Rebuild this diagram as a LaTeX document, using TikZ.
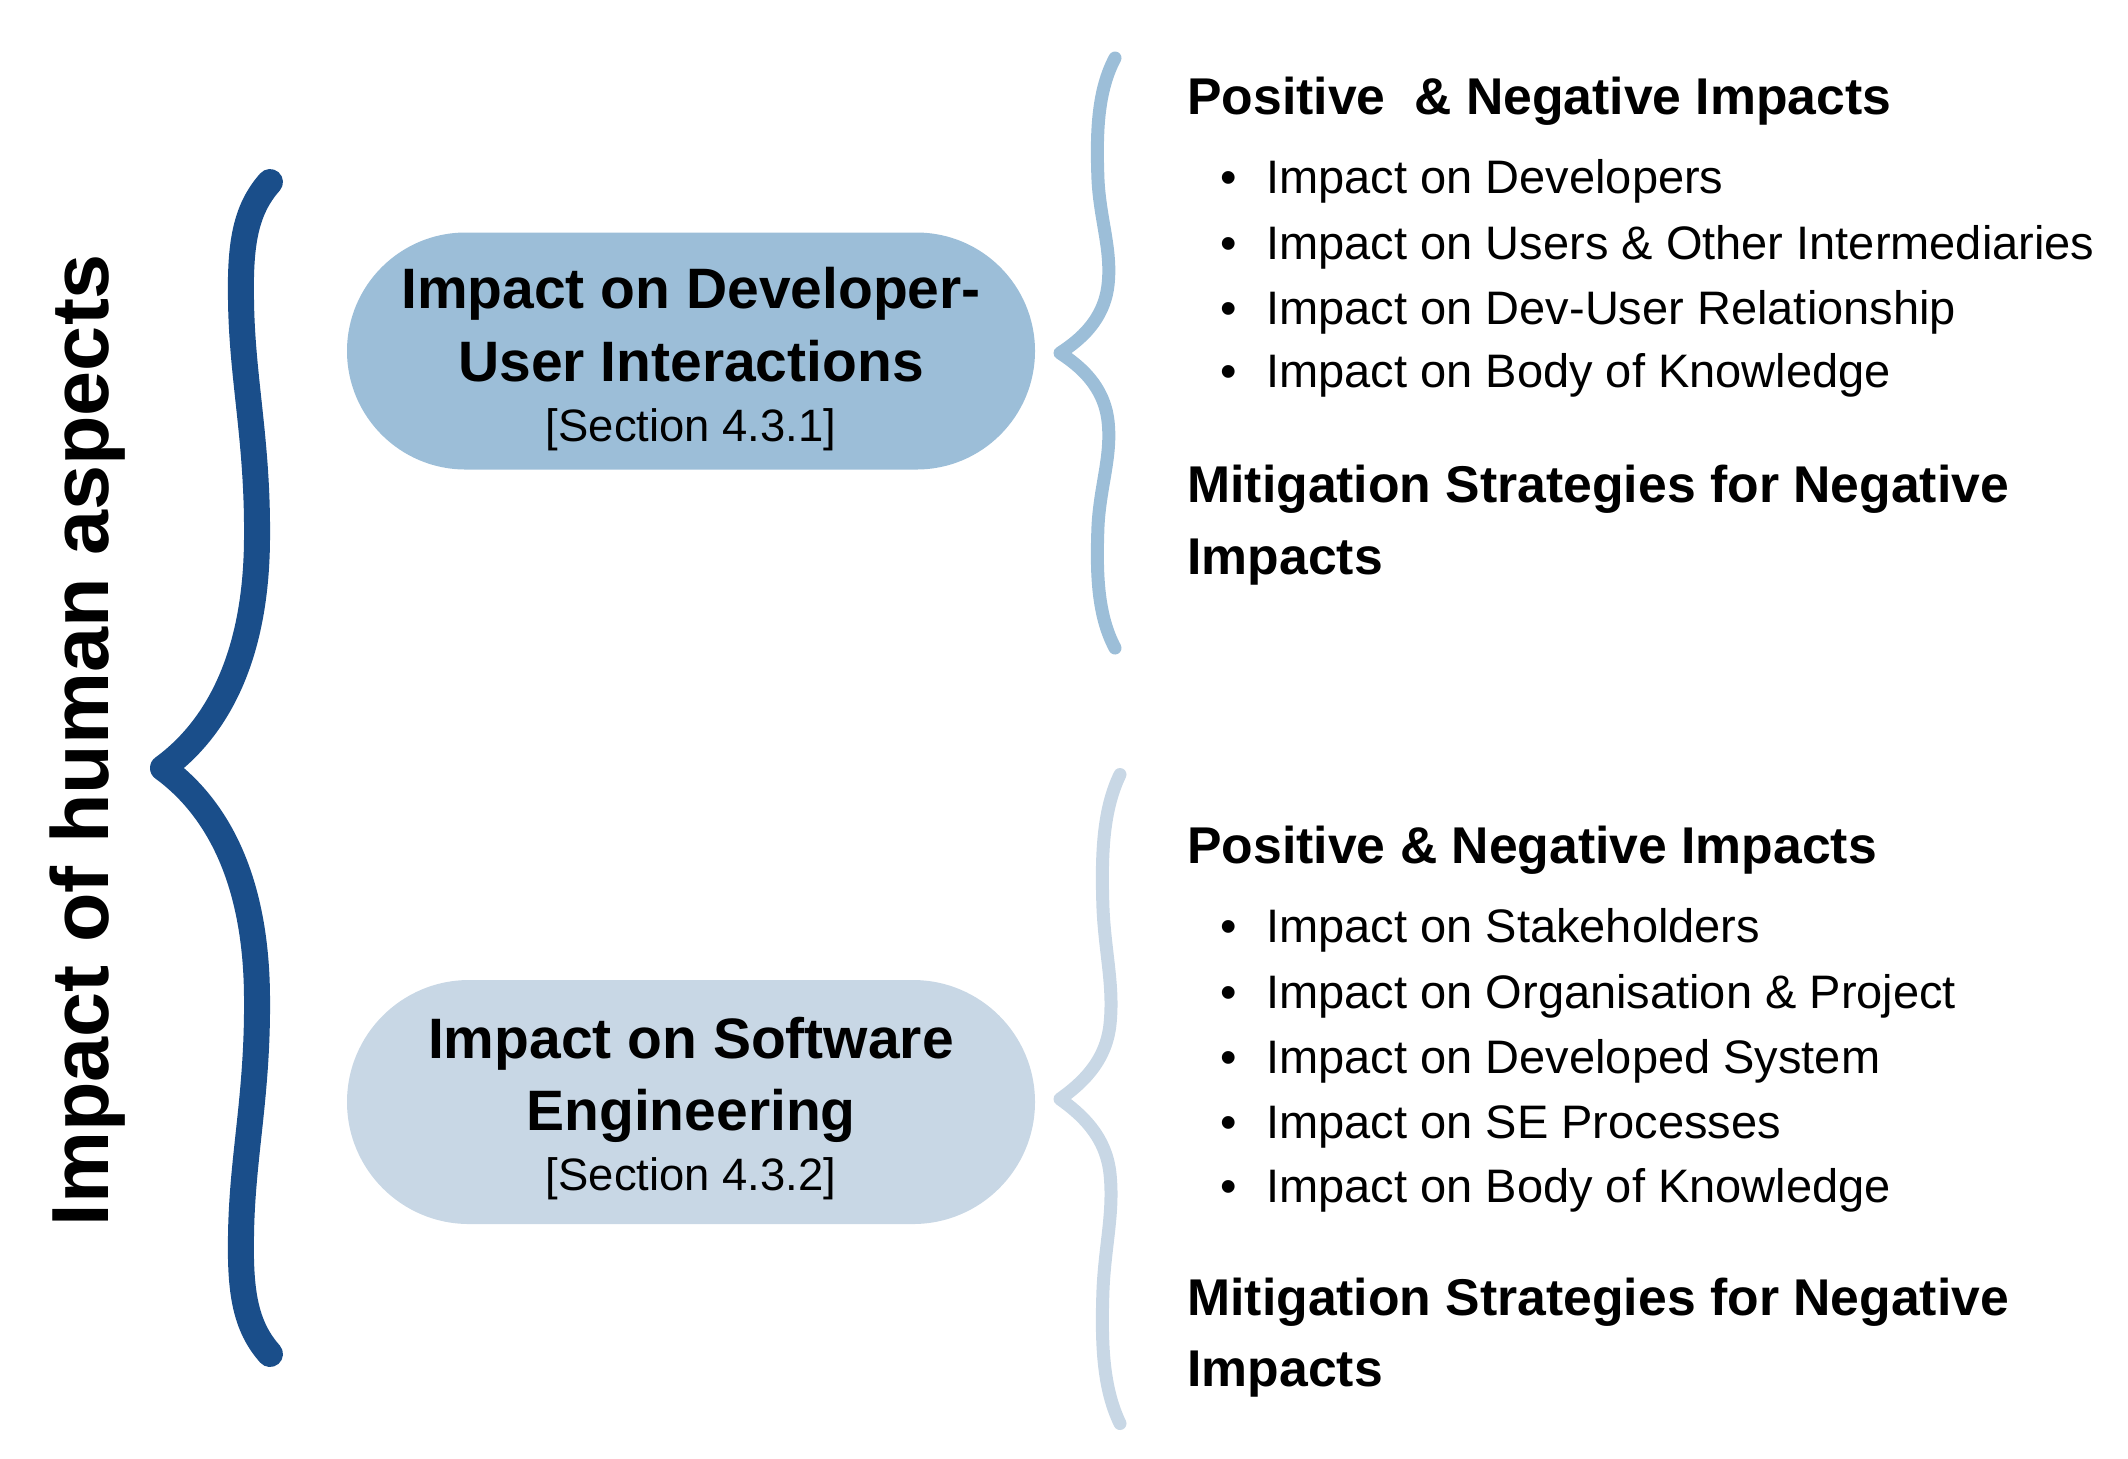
\documentclass[tikz,border=0pt]{standalone}
\usepackage{fontspec}
\setmainfont{Liberation Sans}
\usetikzlibrary{shapes.misc}
\definecolor{darkblue}{RGB}{26,78,138}
\definecolor{midblue}{RGB}{156,190,216}
\definecolor{paleblue}{RGB}{200,215,229}
\begin{document}
\begin{tikzpicture}[x=0.5pt,y=-0.5pt,
  pill/.style={rounded rectangle, minimum width=344pt, inner sep=0pt},
  boxtitle/.style={anchor=base, font=\fontsize{28.5pt}{34pt}\selectfont\bfseries, inner sep=0pt},
  boxsec/.style={anchor=base, font=\fontsize{22.7pt}{27pt}\selectfont, inner sep=0pt},
  head/.style={anchor=base west, font=\fontsize{25.85pt}{31pt}\selectfont\bfseries, inner sep=0pt},
  item/.style={anchor=base west, font=\fontsize{23.5pt}{28pt}\selectfont, inner sep=0pt},
  dot/.style={anchor=base, font=\fontsize{23.5pt}{28pt}\selectfont, inner sep=0pt},
  bigbrace/.style={draw=darkblue, line width=13pt, line cap=round, line join=round},
  smallbrace/.style={line width=6.5pt, line cap=round, line join=round}
]
\useasboundingbox (0,0) rectangle (2128,1458);

% title
\node[rotate=90, anchor=base, inner sep=0pt, font=\fontsize{40.5pt}{48pt}\selectfont\bfseries] (title) at (108,740) {Impact of human aspects};

% big brace
\draw[bigbrace] (270,182) .. controls (245,210) and (240,245) .. (241,300)
  .. controls (242,380) and (258,440) .. (257,540)
  .. controls (256,660) and (215,730) .. (163,768)
  .. controls (215,806) and (256,876) .. (257,996)
  .. controls (258,1096) and (242,1156) .. (241,1236)
  .. controls (240,1291) and (245,1326) .. (270,1354);

% boxes
\node[pill, fill=midblue, minimum height=118.5pt] (box1) at (691,351) {};
\node[pill, fill=paleblue, minimum height=122pt] (box2) at (691,1102) {};

\node[boxtitle] (b1l1) at (691,308) {Impact on Developer-};
\node[boxtitle] (b1l2) at (691,381) {User Interactions};
\node[boxsec] (b1l3) at (691,441) {[Section 4.3.1]};

\node[boxtitle] (b2l1) at (691,1058) {Impact on Software};
\node[boxtitle] (b2l2) at (691,1130) {Engineering};
\node[boxsec] (b2l3) at (691,1190) {[Section 4.3.2]};

% small braces
\begin{scope}[shift={(1060,353)}]
\draw[smallbrace, draw=midblue] (55,-295) .. controls (38,-263) and (36,-223) .. (38,-173)
  .. controls (40,-133) and (52,-103) .. (48,-68)
  .. controls (44,-33) and (20,-13) .. (0,0)
  .. controls (20,13) and (44,33) .. (48,68)
  .. controls (52,103) and (40,133) .. (38,173)
  .. controls (36,223) and (38,263) .. (55,295);
\end{scope}
\begin{scope}[shift={(1060,1099)}, yscale=1.1]
\draw[smallbrace, draw=paleblue] (60,-295) .. controls (43,-263) and (41,-223) .. (43,-173)
  .. controls (45,-133) and (54,-103) .. (50,-68)
  .. controls (46,-33) and (20,-13) .. (0,0)
  .. controls (20,13) and (46,33) .. (50,68)
  .. controls (54,103) and (45,133) .. (43,173)
  .. controls (41,223) and (43,263) .. (60,295);
\end{scope}

% upper list
\node[head] (h1) at (1187,114) {Positive~~\& Negative Impacts};
\node[dot] (d11) at (1229,193) {•};
\node[item] (i11) at (1266,193) {Impact on Developers};
\node[dot] (d12) at (1229,259) {•};
\node[item] (i12) at (1266,259) {Impact on Users \& Other Intermediaries};
\node[dot] (d13) at (1229,324) {•};
\node[item] (i13) at (1266,324) {Impact on Dev-User Relationship};
\node[dot] (d14) at (1229,387) {•};
\node[item] (i14) at (1266,387) {Impact on Body of Knowledge};
\node[head] (m1a) at (1187,502) {Mitigation Strategies for Negative};
\node[head] (m1b) at (1187,574) {Impacts};

% lower list
\node[head] (h2) at (1187,863) {Positive \& Negative Impacts};
\node[dot] (d21) at (1229,942) {•};
\node[item] (i21) at (1266,942) {Impact on Stakeholders};
\node[dot] (d22) at (1229,1008) {•};
\node[item] (i22) at (1266,1008) {Impact on Organisation \& Project};
\node[dot] (d23) at (1229,1073) {•};
\node[item] (i23) at (1266,1073) {Impact on Developed System};
\node[dot] (d24) at (1229,1138) {•};
\node[item] (i24) at (1266,1138) {Impact on SE Processes};
\node[dot] (d25) at (1229,1202) {•};
\node[item] (i25) at (1266,1202) {Impact on Body of Knowledge};
\node[head] (m2a) at (1187,1315) {Mitigation Strategies for Negative};
\node[head] (m2b) at (1187,1386) {Impacts};
\end{tikzpicture}
\end{document}
